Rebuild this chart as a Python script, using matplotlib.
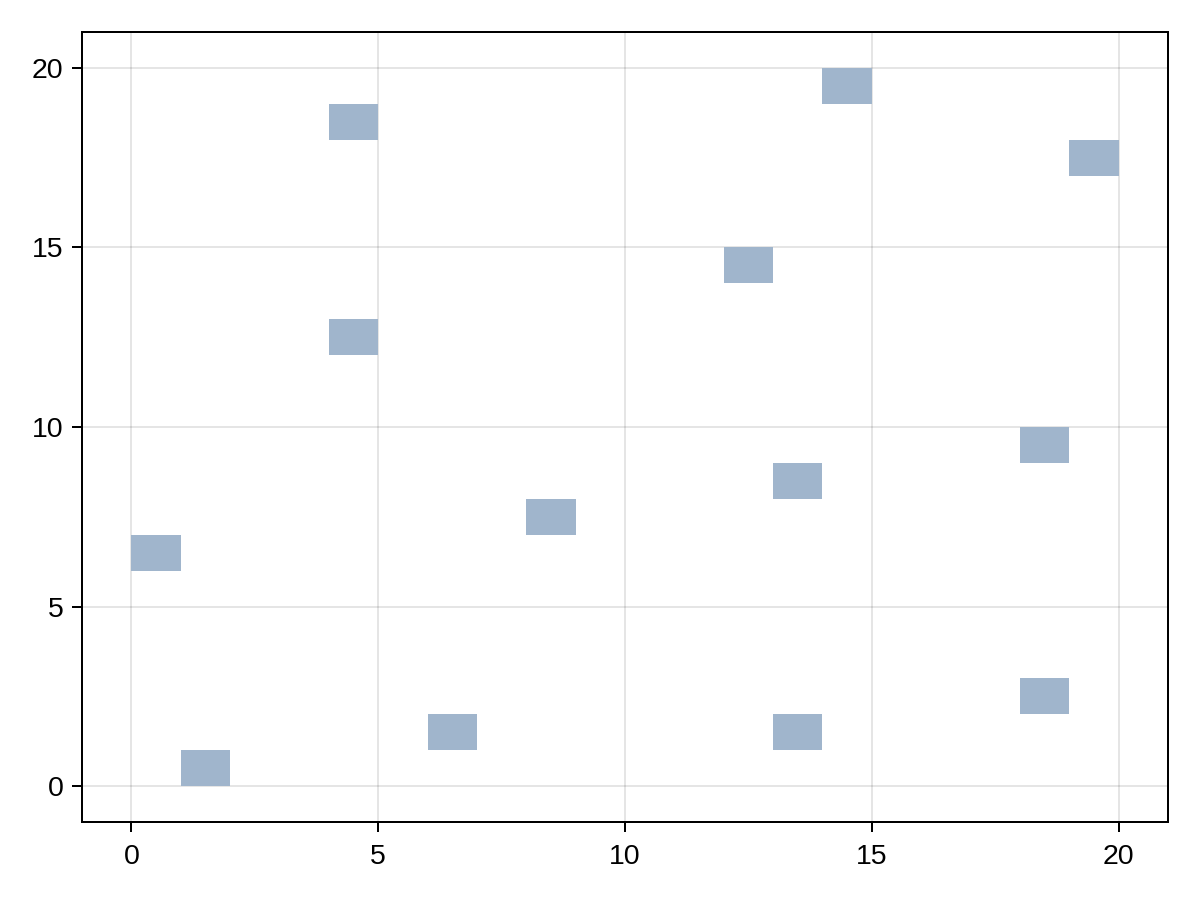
import matplotlib.pyplot as plt

# Cell lower-left corners (each cell is 1x1)
cell_x = [0, 1, 4, 4, 6, 8, 12, 13, 13, 14, 18, 18, 19]
cell_y = [6, 0, 18, 12, 1, 7, 14, 8, 1, 19, 9, 2, 17]
xticks = [0, 5, 10, 15, 20]
yticks = [0, 5, 10, 15, 20]

plt.rcParams['font.family'] = ['Liberation Sans', 'DejaVu Sans']
plt.rcParams['font.size'] = 20

fig = plt.figure(figsize=(12, 9), dpi=100)
ax = fig.add_axes([82 / 1200, 1 - 822 / 900, (1168 - 82) / 1200, (822 - 32) / 900])

ax.bar(cell_x, [1] * len(cell_x), width=1, bottom=cell_y, align='edge',
       color='#a0b5cc', linewidth=0, zorder=3)

ax.set_xlim(-1, 21)
ax.set_ylim(-1, 21)
ax.set_xticks(xticks)
ax.set_yticks(yticks)
ax.set_axisbelow(True)
ax.grid(True, color='black', alpha=0.1, linewidth=1.44)
ax.tick_params(direction='out', length=7.2, width=1.44, labelsize=20.5)
ax.tick_params(axis='x', pad=9)
ax.tick_params(axis='y', pad=6)
for s in ax.spines.values():
    s.set_linewidth(1.44)

fig.savefig('out.png', dpi=100)
